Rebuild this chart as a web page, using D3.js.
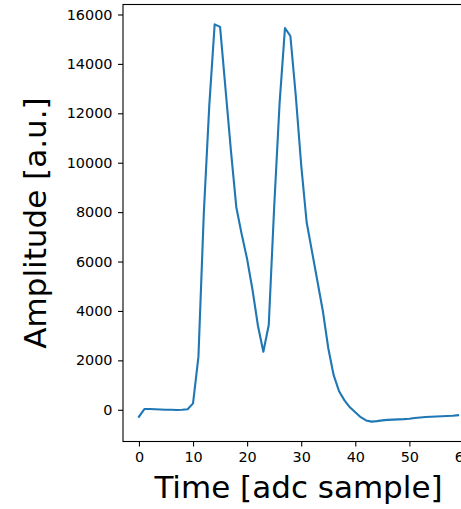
<!DOCTYPE html>
<html>
<head>
<meta charset="utf-8">
<script src="https://cdn.jsdelivr.net/npm/d3@7"></script>
<style>
  html, body { margin: 0; padding: 0; background: #fff; overflow: hidden; }
  svg { display: block; }
  text { font-family: "DejaVu Sans", sans-serif; fill: #000; }
</style>
</head>
<body>
<svg id="chart" width="461" height="509"></svg>
<script>
// Pulse amplitude per ADC sample (index = sample number)
const amplitude = [
  -280, 30, 30, 20, 10, 0, 0, -10, 0, 20,
  260, 2150, 8000, 12300, 15600, 15500, 13000, 10500, 8200, 7100,
  6100, 4850, 3400, 2350, 3430, 8200, 12400, 15450, 15130, 12700,
  9900, 7600, 6400, 5200, 4000, 2500, 1400, 750, 380, 100,
  -100, -300, -430, -480, -460, -430, -410, -400, -390, -380,
  -360, -330, -310, -290, -280, -270, -260, -250, -240, -220
];
const xTickValues = [0, 10, 20, 30, 40, 50, 60];
const yTickValues = [0, 2000, 4000, 6000, 8000, 10000, 12000, 14000, 16000];
const xLabel = "Time [adc sample]";
const yLabel = "Amplitude [a.u.]";

const points = amplitude.map((v, i) => ({ sample: i, value: v }));

// plot box (right edge runs past the visible window)
const box = { left: 123, right: 474, top: 4.5, bottom: 441.5 };

function padded([lo, hi], frac) {
  const m = (hi - lo) * frac;
  return [lo - m, hi + m];
}

const x = d3.scaleLinear()
  .domain(padded(d3.extent(points, d => d.sample), 0.05))
  .range([box.left, box.right]);
const y = d3.scaleLinear()
  .domain(padded(d3.extent(points, d => d.value), 0.05))
  .range([box.bottom, box.top]);

const svg = d3.select("#chart");
const tickFont = "14.4px";

// x axis
const gx = svg.append("g")
  .attr("transform", `translate(0,${box.bottom})`)
  .call(d3.axisBottom(x).tickValues(xTickValues).tickFormat(d3.format("d"))
    .tickSize(5).tickPadding(5));
gx.select(".domain").remove();
gx.selectAll(".tick line").attr("stroke", "#000").attr("stroke-width", 1.1);
gx.selectAll(".tick text").style("font-size", tickFont).attr("fill", "#000");

// y axis
const gy = svg.append("g")
  .attr("transform", `translate(${box.left},0)`)
  .call(d3.axisLeft(y).tickValues(yTickValues).tickFormat(d3.format("d"))
    .tickSize(5).tickPadding(5.5));
gy.select(".domain").remove();
gy.selectAll(".tick line").attr("stroke", "#000").attr("stroke-width", 1.1);
gy.selectAll(".tick text").style("font-size", tickFont).attr("fill", "#000");

// signal trace
svg.append("path")
  .datum(points)
  .attr("fill", "none")
  .attr("stroke", "#1f77b4")
  .attr("stroke-width", 2.1)
  .attr("stroke-linejoin", "round")
  .attr("stroke-linecap", "square")
  .attr("d", d3.line().x(d => x(d.sample)).y(d => y(d.value)));

// frame
svg.append("rect")
  .attr("x", box.left)
  .attr("y", box.top)
  .attr("width", box.right - box.left)
  .attr("height", box.bottom - box.top)
  .attr("fill", "none")
  .attr("stroke", "#000")
  .attr("stroke-width", 1.1);

// axis titles
svg.append("text")
  .attr("x", (box.left + box.right) / 2)
  .attr("y", 498)
  .attr("text-anchor", "middle")
  .style("font-size", "31px")
  .text(xLabel);

svg.append("text")
  .attr("transform", `translate(46,${(box.top + box.bottom) / 2}) rotate(-90)`)
  .attr("text-anchor", "middle")
  .style("font-size", "31px")
  .text(yLabel);
</script>
</body>
</html>
